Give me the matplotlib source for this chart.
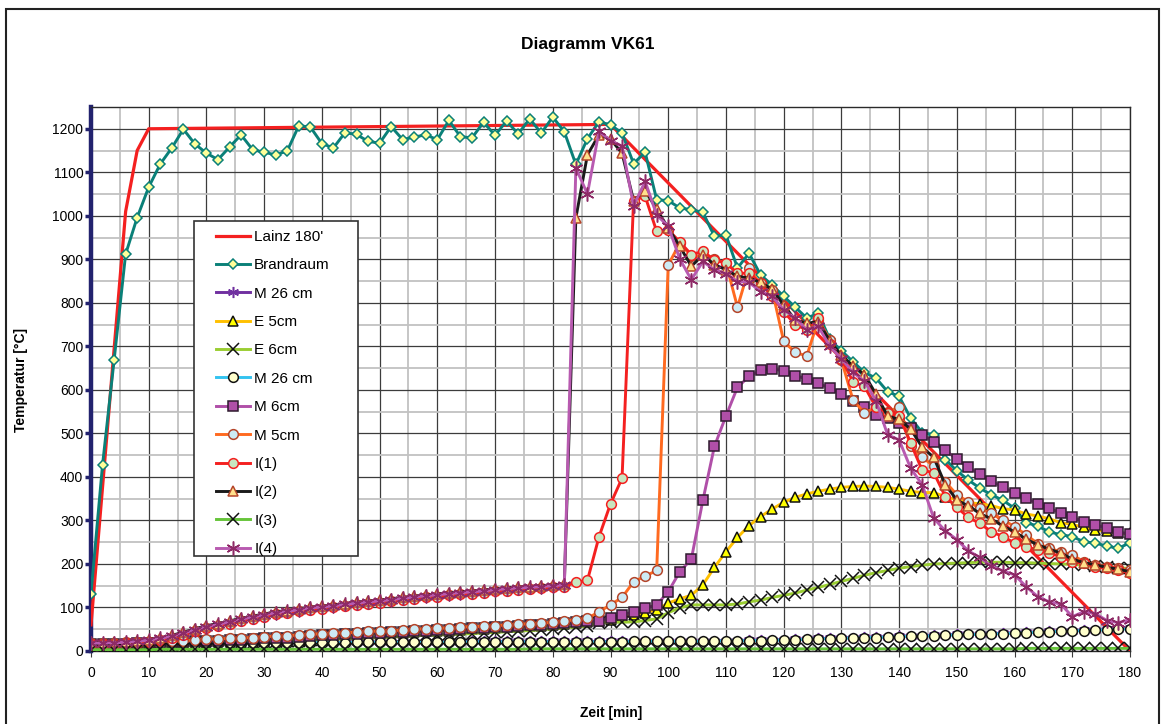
import matplotlib.pyplot as plt
from matplotlib.patches import Rectangle

# time axis of the measurements (every 2 minutes)
minutes = list(range(0, 182, 2))

# Lainz 180' design curve (corner points only)
lainz_min = [0, 6, 8, 10, 90, 180]
lainz = [60, 1010, 1150, 1200, 1210, 0]

brandraum = [132, 428, 668, 912, 996, 1066, 1119, 1156, 1199, 1165,
             1144, 1129, 1158, 1186, 1152, 1146, 1140, 1149, 1207, 1204,
             1166, 1156, 1191, 1187, 1171, 1167, 1205, 1175, 1181, 1186,
             1175, 1219, 1182, 1179, 1215, 1185, 1218, 1188, 1223, 1190,
             1227, 1193, 1118, 1177, 1216, 1209, 1190, 1120, 1146, 1037,
             1035, 1018, 1014, 1008, 953, 956, 880, 914, 864, 841,
             815, 790, 765, 776, 716, 690, 665, 640, 627, 596,
             585, 535, 502, 497, 440, 414, 393, 374, 359, 346,
             328, 295, 287, 274, 267, 263, 251, 248, 241, 236,
             249]

m26_a = [16, 16, 17, 17, 17, 18, 18, 18, 18, 18,
         19, 19, 19, 19, 19, 19, 20, 20, 20, 20,
         20, 20, 20, 21, 21, 21, 21, 21, 21, 21,
         21, 21, 21, 22, 22, 22, 22, 22, 22, 22,
         22, 22, 22, 22, 22, 22, 22, 23, 23, 23,
         23, 23, 23, 23, 24, 24, 24, 25, 25, 26,
         26, 27, 28, 29, 29, 30, 31, 32, 32, 33,
         34, 35, 35, 36, 37, 38, 39, 39, 40, 41,
         42, 43, 44, 45, 46, 47, 48, 49, 50, 51,
         52]

e5 = [14, 14, 15, 15, 16, 16, 17, 18, 19, 20,
      21, 22, 23, 24, 25, 27, 28, 29, 31, 32,
      34, 35, 36, 37, 39, 40, 41, 42, 44, 45,
      46, 47, 49, 50, 51, 52, 54, 55, 57, 58,
      60, 62, 64, 66, 68, 72, 77, 83, 88, 95,
      110, 120, 128, 152, 192, 228, 261, 288, 309, 326,
      342, 353, 361, 367, 372, 376, 378, 379, 378, 376,
      372, 367, 364, 364, 355, 347, 341, 338, 334, 327,
      324, 315, 310, 304, 295, 291, 284, 278, 275, 271,
      270]

e6 = [8, 8, 9, 9, 10, 10, 11, 12, 13, 14,
      15, 16, 17, 18, 19, 20, 21, 22, 24, 25,
      26, 27, 28, 29, 30, 31, 32, 34, 35, 36,
      37, 38, 39, 40, 42, 43, 44, 46, 47, 49,
      51, 53, 55, 58, 64, 66, 66, 67, 70, 74,
      88, 99, 106, 106, 106, 106, 108, 113, 117, 123,
      128, 133, 140, 146, 153, 160, 167, 174, 180, 185,
      190, 194, 197, 200, 201, 202, 203, 204, 204, 204,
      203, 203, 202, 201, 200, 199, 197, 195, 193, 191,
      190]

m26_b = [15, 15, 16, 16, 16, 17, 17, 17, 17, 17,
         18, 18, 18, 18, 18, 18, 19, 19, 19, 19,
         19, 19, 19, 20, 20, 20, 20, 20, 20, 20,
         20, 20, 20, 21, 21, 21, 21, 21, 21, 21,
         21, 21, 21, 21, 21, 21, 21, 22, 22, 22,
         22, 22, 22, 22, 23, 23, 23, 24, 24, 25,
         25, 26, 27, 28, 28, 29, 30, 31, 31, 32,
         33, 34, 34, 35, 36, 37, 38, 38, 39, 40,
         41, 42, 43, 44, 45, 46, 47, 48, 49, 50,
         51]

m6 = [16, 16, 17, 17, 18, 18, 19, 20, 21, 22,
      23, 24, 25, 26, 27, 29, 30, 31, 33, 34,
      36, 37, 38, 39, 41, 42, 43, 44, 46, 47,
      48, 49, 51, 52, 53, 54, 56, 57, 59, 60,
      62, 64, 66, 68, 70, 75, 83, 90, 98, 106,
      136, 182, 211, 346, 470, 540, 606, 631, 645, 648,
      644, 633, 625, 615, 604, 590, 575, 561, 543, 536,
      523, 512, 497, 480, 461, 441, 422, 406, 390, 377,
      362, 351, 338, 328, 317, 308, 297, 290, 282, 274,
      268]

m5 = [18, 19, 19, 20, 20, 21, 22, 23, 24, 25,
      27, 28, 29, 30, 31, 33, 34, 35, 37, 38,
      40, 41, 42, 43, 45, 46, 47, 48, 50, 51,
      52, 53, 55, 56, 57, 58, 60, 61, 63, 64,
      66, 69, 72, 75, 90, 106, 123, 159, 172, 185,
      887, 937, 908, 907, 900, 891, 790, 880, 841, 830,
      712, 686, 678, 761, 715, 669, 577, 547, 560, 550,
      560, 470, 445, 425, 389, 359, 343, 328, 316, 301,
      286, 267, 247, 236, 228, 221, 205, 198, 194, 190,
      186]

i1 = [16, 16, 17, 18, 19, 21, 25, 30, 37, 45,
      52, 57, 63, 69, 74, 79, 84, 87, 91, 95,
      97, 100, 103, 106, 109, 111, 114, 117, 120, 123,
      125, 128, 130, 132, 134, 137, 139, 141, 142, 144,
      146, 148, 158, 162, 262, 338, 397, 1035, 1045, 964,
      968, 940, 911, 918, 899, 891, 868, 868, 845, 815,
      780, 750, 738, 765, 705, 672, 619, 608, 560, 548,
      540, 478, 415, 410, 355, 330, 307, 293, 274, 263,
      248, 240, 232, 225, 217, 205, 202, 194, 190, 186,
      180]

i2 = [19, 19, 20, 21, 23, 26, 30, 36, 43, 51,
      58, 63, 69, 75, 80, 85, 90, 93, 97, 101,
      103, 106, 109, 112, 115, 117, 120, 123, 126, 129,
      131, 134, 136, 138, 140, 143, 145, 147, 148, 150,
      152, 154, 995, 1140, 1186, 1176, 1144, 1035, 1058, 1015,
      972, 930, 884, 910, 888, 876, 861, 857, 847, 831,
      795, 761, 753, 757, 712, 680, 655, 635, 590, 540,
      532, 510, 468, 445, 382, 347, 333, 316, 303, 287,
      274, 257, 244, 234, 225, 211, 203, 198, 192, 188,
      182]

i3 = [3, 3, 3, 3, 3, 3, 4, 4, 4, 4,
      4, 4, 4, 4, 4, 4, 4, 4, 4, 4,
      4, 4, 4, 4, 4, 4, 4, 4, 4, 4,
      4, 4, 4, 4, 4, 4, 4, 4, 5, 5,
      5, 5, 5, 5, 5, 5, 5, 5, 5, 5,
      5, 5, 5, 5, 5, 5, 5, 5, 5, 5,
      5, 5, 5, 5, 5, 5, 5, 5, 5, 5,
      5, 5, 5, 5, 5, 5, 5, 5, 5, 5,
      5, 6, 6, 6, 6, 6, 6, 6, 6, 6,
      6]

i4 = [18, 18, 19, 20, 22, 25, 29, 34, 41, 49,
      56, 61, 67, 73, 78, 83, 88, 91, 95, 99,
      101, 104, 107, 110, 113, 115, 118, 121, 124, 127,
      129, 132, 134, 136, 138, 141, 143, 145, 146, 148,
      150, 152, 1110, 1050, 1194, 1173, 1160, 1023, 1079, 1002,
      976, 901, 853, 895, 876, 867, 849, 847, 826, 815,
      784, 765, 738, 746, 700, 672, 640, 620, 575, 497,
      485, 420, 382, 305, 276, 256, 230, 215, 195, 184,
      175, 148, 125, 113, 108, 79, 90, 86, 70, 65,
      72]

plt.rcParams['font.family'] = ['Liberation Sans', 'DejaVu Sans']

W, H = 1162, 724
fig = plt.figure(figsize=(W / 100, H / 100), dpi=100)
ax = fig.add_axes([91 / W, (H - 651) / H, (1130 - 91) / W, (651 - 107) / H])

star = (6, 2, 0)  # asterisk marker like the Excel "star"

# label, values, line colour, marker, face, edge, size
series = [
    ("Brandraum", brandraum, "#0A8078", "D", "#FFFF99", "#0A8078", 5.0),
    ("M 26 cm", m26_a, "#7030A0", star, "#7030A0", "#7030A0", 8),
    ("E 5cm", e5, "#FFC000", "^", "#FFFF00", "#111111", 7.5),
    ("E 6cm", e6, "#9ACD32", "x", "#111111", "#111111", 8),
    ("M 26 cm", m26_b, "#33C3F0", "o", "#FFFFCC", "#111111", 7),
    ("M 6cm", m6, "#B04FA8", "s", "#B04FA8", "#2E1A2E", 7),
    ("M 5cm", m5, "#FF6A20", "o", "#CDEBF5", "#B5452A", 7),
    ("I(1)", i1, "#F42020", "o", "#C8E6C0", "#F42020", 7),
    ("I(2)", i2, "#1A1A1A", "^", "#FFE08C", "#B5452A", 7.5),
    ("I(3)", i3, "#66C43A", "x", "#111111", "#111111", 8),
    ("I(4)", i4, "#B85AB0", star, "#8E2A66", "#8E2A66", 10),
]

ax.plot(lainz_min, lainz, color="#F42020", lw=2.3, label="Lainz 180'", zorder=3)
for k, (lab, vals, lc, mk, fc, ec, ms) in enumerate(series):
    ax.plot(minutes, vals, color=lc, lw=2.1, marker=mk, markersize=ms,
            markerfacecolor=fc, markeredgecolor=ec, markeredgewidth=1.1,
            label=lab, zorder=3 + k * 0.1)

ax.set_xlim(0, 180)
ax.set_ylim(0, 1250)
ax.set_xticks(range(0, 181, 10))
ax.set_xticks(range(5, 180, 10), minor=True)
ax.set_yticks(range(0, 1201, 100))
ax.set_yticks(range(50, 1250, 100), minor=True)
ax.set_axisbelow(True)
ax.grid(which="minor", color="#c2c2c2", lw=1.3)
ax.grid(which="major", color="#3c3c3c", lw=0.9)
ax.tick_params(which="minor", length=0)
ax.tick_params(axis="y", direction="out", length=4, width=2.5,
               color="#22226E", pad=1.5, labelsize=10)
ax.tick_params(axis="x", direction="out", length=4, width=0.8,
               color="#3c3c3c", pad=7, labelsize=10)

for side in ["top", "right", "bottom"]:
    ax.spines[side].set_color("#2a2a2a")
    ax.spines[side].set_linewidth(1.0)
ax.spines["left"].set_color("#22226E")
ax.spines["left"].set_linewidth(3.2)

fig.text(588 / W, 1 - 45 / H, "Diagramm VK61", ha="center", va="center",
         fontsize=12.5, fontweight="bold")
fig.text(611 / W, 1 - 713 / H, "Zeit [min]", ha="center", va="center",
         fontsize=10, fontweight="bold")
fig.text(21 / W, 1 - 380 / H, "Temperatur [°C]", ha="center", va="center",
         rotation=90, fontsize=10, fontweight="bold")

# legend box (drawn separately so the padding matches)
box = Rectangle((194 / W, 1 - 556 / H), 164 / W, 335 / H, transform=fig.transFigure,
                facecolor="white", edgecolor="#333333", lw=1.2, zorder=20, clip_on=False)
ax.add_patch(box)
leg = ax.legend(loc="upper left", bbox_to_anchor=(216 / W, 1 - 230 / H),
                bbox_transform=fig.transFigure, frameon=False, fontsize=11,
                borderpad=0, borderaxespad=0, handlelength=2.2,
                handletextpad=0.3, labelspacing=0.94)
leg.set_zorder(21)

# outer chart frame
fig.add_artist(Rectangle((6 / W, -0.05), 1153 / W, 1.05 - 9 / H, transform=fig.transFigure,
                         fill=False, edgecolor="#222222", lw=1.5))

fig.savefig("out.png", dpi=100)
